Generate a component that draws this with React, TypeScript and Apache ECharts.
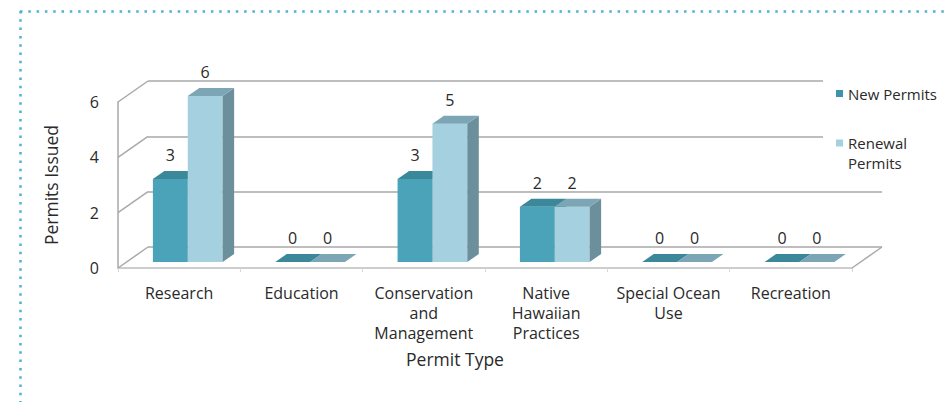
import React, { useEffect, useRef } from "react";
import * as echarts from "echarts";

const categories = [
  "Research",
  "Education",
  "Conservation\nand\nManagement",
  "Native\nHawaiian\nPractices",
  "Special Ocean\nUse",
  "Recreation",
];
const newPermits = [3, 0, 3, 2, 0, 0];
const renewalPermits = [6, 0, 5, 2, 0, 0];
const yTicks = [0, 2, 4, 6];
const seriesNames = ["New Permits", "Renewal Permits"];

const FONT = "'Open Sans', 'DejaVu Sans', sans-serif";
const TEXT = "#2a2a2a";
const GRID_LINE = "#a9a9a9";
const DEPTH_X = 30;
const DEPTH_Y = -21;
const BAR_SHIFT_X = 8.6;
const BAR_SHIFT_Y = -6;
const BAR_DX = 11.5;
const BAR_DY = -8;

const palettes = [
  { front: "#4ba3ba", top: "#3b889a", side: "#357b8b" },
  { front: "#a4d0e0", top: "#7ca6b5", side: "#6c8f9c" },
];

function barRenderer(seriesIndex: number) {
  return (params: any, api: any) => {
    const cat = api.value(0);
    const v = api.value(1);
    const top = api.coord([cat, v]);
    const base = api.coord([cat, 0]);
    const band = api.size([1, 0])[0];
    const w = band * 0.285;
    const cx = top[0] + BAR_SHIFT_X;
    const x0 = seriesIndex === 0 ? cx - w : cx;
    const x1 = x0 + w;
    const yt = top[1] + BAR_SHIFT_Y;
    const yb = base[1] + BAR_SHIFT_Y;
    const p = palettes[seriesIndex];
    return {
      type: "group",
      children: [
        {
          type: "polygon",
          shape: { points: [[x0, yt], [x1, yt], [x1, yb], [x0, yb]] },
          style: { fill: p.front },
        },
        {
          type: "polygon",
          shape: {
            points: [
              [x1, yt],
              [x1 + BAR_DX, yt + BAR_DY],
              [x1 + BAR_DX, yb + BAR_DY],
              [x1, yb],
            ],
          },
          style: { fill: p.side },
        },
        {
          type: "polygon",
          shape: {
            points: [
              [x0, yt],
              [x1, yt],
              [x1 + BAR_DX, yt + BAR_DY],
              [x0 + BAR_DX, yt + BAR_DY],
            ],
          },
          style: { fill: p.top },
        },
        {
          type: "text",
          x: (x0 + x1) / 2,
          y: yt - 16,
          style: {
            text: String(v),
            align: "center",
            verticalAlign: "bottom",
            font: `16px ${FONT}`,
            fill: TEXT,
          },
        },
      ],
    };
  };
}

function frameRenderer(params: any, api: any) {
  const cs = params.coordSys;
  const v = api.value(1);
  const y = api.coord([0, v])[1];
  const children: any[] = [
    {
      type: "line",
      shape: { x1: cs.x, y1: y, x2: cs.x + DEPTH_X, y2: y + DEPTH_Y },
      style: { stroke: GRID_LINE, lineWidth: 1.5 },
    },
  ];
  if (v === 0) {
    children.push({
      type: "line",
      shape: {
        x1: cs.x + cs.width,
        y1: y,
        x2: cs.x + cs.width + DEPTH_X,
        y2: y + DEPTH_Y,
      },
      style: { stroke: GRID_LINE, lineWidth: 1.5 },
    });
  }
  return { type: "group", children };
}

export default function App() {
  const ref = useRef<HTMLDivElement>(null);
  useEffect(() => {
    if (!ref.current) return;
    const chart = echarts.init(ref.current, undefined, { renderer: "svg" });
    const textStyle = { fontFamily: FONT, fontSize: 15, color: TEXT };
    chart.setOption({
      animation: false,
      backgroundColor: "#ffffff",
      textStyle: { fontFamily: FONT },
      grid: [
        { left: 118, top: 102, width: 734, height: 166 },
        { left: 118 + DEPTH_X, top: 102 + DEPTH_Y, width: 734, height: 166 },
      ],
      xAxis: [
        {
          type: "category",
          gridIndex: 0,
          data: categories,
          axisLine: { show: true, lineStyle: { color: "#bdbdbd", width: 1.5 } },
          axisTick: { show: true, length: 4, lineStyle: { color: "#d8d8d8" } },
          axisLabel: {
            interval: 0,
            margin: 15,
            lineHeight: 20,
            ...textStyle,
            fontSize: 16,
          },
          name: "Permit Type",
          nameLocation: "middle",
          nameGap: 82,
          nameTextStyle: { ...textStyle, fontSize: 17.5, padding: [0, 60, 0, 0] },
        },
        {
          type: "value",
          gridIndex: 1,
          min: 0,
          max: 1,
          show: false,
        },
      ],
      yAxis: [
        {
          type: "value",
          gridIndex: 0,
          min: 0,
          max: 6,
          interval: 2,
          axisLine: { show: true, lineStyle: { color: GRID_LINE, width: 1.5 } },
          axisTick: { show: false },
          splitLine: { show: false },
          axisLabel: { margin: 19, ...textStyle, fontSize: 16 },
          name: "Permits Issued",
          nameLocation: "middle",
          nameGap: 58,
          nameTextStyle: { ...textStyle, fontSize: 17.5 },
        },
        {
          type: "value",
          gridIndex: 1,
          min: 0,
          max: 6,
          interval: 2,
          axisLine: { show: false },
          axisTick: { show: false },
          axisLabel: { show: false },
          splitLine: { show: true, lineStyle: { color: GRID_LINE, width: 1.5 } },
        },
      ],
      legend: [
        {
          data: [seriesNames[0]],
          left: 836,
          top: 86,
          padding: 0,
          itemWidth: 7,
          itemHeight: 7,
          icon: "rect",
          textStyle: { ...textStyle },
          z: 10,
        },
        {
          data: [seriesNames[1]],
          left: 836,
          top: 113,
          padding: 0,
          itemWidth: 7,
          itemHeight: 7,
          icon: "rect",
          formatter: () => " \nRenewal\nPermits",
          textStyle: { ...textStyle, lineHeight: 20 },
          z: 10,
        },
      ],
      graphic: [
        {
          type: "rect",
          shape: { x: 823, y: 66, width: 125, height: 112 },
          style: { fill: "#ffffff" },
          z: 3,
        },
        {
          type: "line",
          shape: { x1: 20, y1: 11.5, x2: 948, y2: 11.5 },
          style: { stroke: "#4fb3d0", lineWidth: 2.5, lineDash: [2.5, 5.8] },
          z: 1,
        },
        {
          type: "line",
          shape: { x1: 20.5, y1: 11, x2: 20.5, y2: 402 },
          style: { stroke: "#4fb3d0", lineWidth: 2.5, lineDash: [2.5, 5.8] },
          z: 1,
        },
      ],
      series: [
        {
          type: "custom",
          name: "frame",
          xAxisIndex: 0,
          yAxisIndex: 0,
          data: yTicks.map((v) => [0, v]),
          renderItem: frameRenderer,
          silent: true,
          z: 1,
        },
        {
          type: "custom",
          name: seriesNames[0],
          xAxisIndex: 0,
          yAxisIndex: 0,
          itemStyle: { color: "#3f93a8" },
          data: newPermits.map((v, i) => [i, v]),
          renderItem: barRenderer(0),
          z: 2,
        },
        {
          type: "custom",
          name: seriesNames[1],
          xAxisIndex: 0,
          yAxisIndex: 0,
          itemStyle: { color: "#a4d0e0" },
          data: renewalPermits.map((v, i) => [i, v]),
          renderItem: barRenderer(1),
          z: 2,
        },
      ],
    });
    return () => chart.dispose();
  }, []);
  return (
    <div
      ref={ref}
      style={{ position: "absolute", left: 0, top: 0, width: 948, height: 402 }}
    />
  );
}
